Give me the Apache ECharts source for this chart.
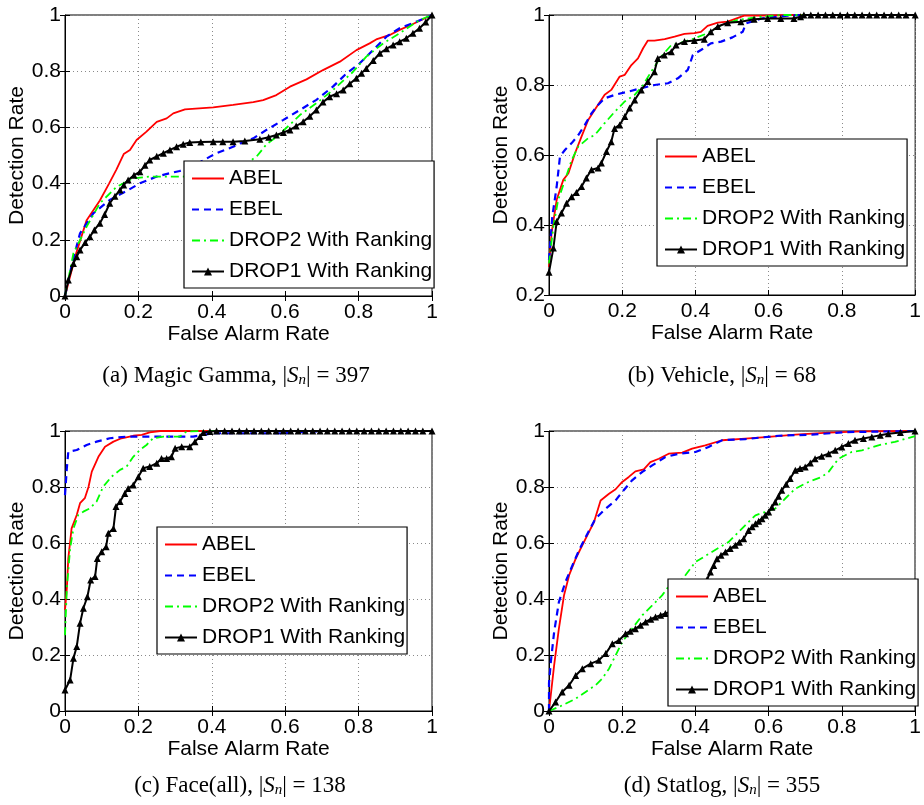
<!DOCTYPE html>
<html>
<head>
<meta charset="utf-8">
<script src="https://cdn.jsdelivr.net/npm/echarts@6/dist/echarts.min.js"></script>
<style>
html,body{margin:0;padding:0;background:#fff;}
#c{width:924px;height:805px;}
</style>
</head>
<body>
<div id="c"></div>
<script>
// ---------------- data ----------------
const seriesNames = ['ABEL', 'EBEL', 'DROP2 With Ranking', 'DROP1 With Ranking'];
const xTicks = [0, 0.2, 0.4, 0.6, 0.8, 1];

// (a) Magic Gamma
const a_ABEL = [[0,0],[0.03,0.15],[0.059,0.27],[0.095,0.34],[0.12,0.40],[0.14,0.45],[0.16,0.505],[0.177,0.52],[0.195,0.555],[0.222,0.585],[0.25,0.62],[0.277,0.632],[0.295,0.65],[0.327,0.664],[0.404,0.671],[0.458,0.68],[0.513,0.69],[0.54,0.697],[0.576,0.715],[0.613,0.745],[0.658,0.771],[0.703,0.804],[0.749,0.834],[0.794,0.875],[0.83,0.899],[0.848,0.913],[0.885,0.929],[0.912,0.947],[0.948,0.968],[1,1]];
const a_EBEL = [[0,0],[0.02,0.12],[0.041,0.223],[0.077,0.294],[0.122,0.342],[0.168,0.374],[0.204,0.401],[0.25,0.425],[0.286,0.437],[0.313,0.445],[0.367,0.475],[0.395,0.496],[0.413,0.508],[0.458,0.531],[0.477,0.543],[0.513,0.561],[0.549,0.591],[0.594,0.626],[0.64,0.662],[0.685,0.698],[0.73,0.745],[0.767,0.792],[0.803,0.828],[0.839,0.875],[0.876,0.923],[0.912,0.953],[0.957,0.976],[1,1]];
const a_DROP2 = [[0,0],[0.023,0.152],[0.059,0.247],[0.095,0.33],[0.141,0.389],[0.186,0.419],[0.231,0.425],[0.322,0.425],[0.40,0.44],[0.48,0.46],[0.522,0.496],[0.549,0.54],[0.577,0.567],[0.613,0.61],[0.64,0.644],[0.685,0.686],[0.73,0.733],[0.785,0.798],[0.821,0.852],[0.867,0.899],[0.912,0.935],[0.966,0.982],[1,1]];
const a_DROP1 = [[0,0],[0.009,0.057],[0.023,0.116],[0.032,0.14],[0.041,0.164],[0.055,0.19],[0.068,0.211],[0.08,0.235],[0.095,0.259],[0.108,0.29],[0.122,0.33],[0.136,0.355],[0.15,0.377],[0.16,0.395],[0.172,0.413],[0.188,0.43],[0.204,0.442],[0.218,0.465],[0.231,0.484],[0.25,0.497],[0.268,0.508],[0.286,0.52],[0.304,0.531],[0.322,0.54],[0.34,0.546],[0.37,0.548],[0.404,0.549],[0.43,0.549],[0.458,0.549],[0.49,0.552],[0.531,0.558],[0.555,0.565],[0.576,0.573],[0.595,0.582],[0.613,0.591],[0.63,0.605],[0.649,0.62],[0.667,0.64],[0.685,0.662],[0.703,0.69],[0.721,0.709],[0.74,0.72],[0.758,0.733],[0.776,0.755],[0.794,0.775],[0.808,0.793],[0.821,0.81],[0.84,0.838],[0.858,0.864],[0.876,0.88],[0.894,0.893],[0.912,0.905],[0.93,0.917],[0.948,0.935],[0.966,0.953],[0.983,0.975],[1,1]];

// (b) Vehicle
const b_ABEL = [[0,0.28],[0.007,0.377],[0.021,0.472],[0.039,0.529],[0.053,0.548],[0.071,0.605],[0.089,0.653],[0.107,0.70],[0.125,0.729],[0.152,0.772],[0.17,0.786],[0.193,0.824],[0.207,0.829],[0.225,0.857],[0.243,0.876],[0.257,0.905],[0.27,0.927],[0.288,0.927],[0.316,0.931],[0.343,0.938],[0.37,0.946],[0.397,0.948],[0.415,0.952],[0.433,0.969],[0.461,0.978],[0.488,0.981],[0.533,0.998],[0.578,0.998],[0.669,1],[1,1]];
const b_EBEL = [[0,0.3],[0.009,0.424],[0.021,0.51],[0.03,0.596],[0.044,0.615],[0.062,0.634],[0.08,0.657],[0.098,0.686],[0.116,0.719],[0.134,0.743],[0.152,0.762],[0.18,0.772],[0.216,0.781],[0.252,0.791],[0.288,0.80],[0.325,0.805],[0.352,0.819],[0.379,0.843],[0.393,0.886],[0.415,0.90],[0.442,0.919],[0.47,0.924],[0.501,0.936],[0.529,0.952],[0.538,0.976],[0.58,0.99],[0.65,0.998],[0.7,1],[1,1]];
const b_DROP2 = [[0,0.29],[0.012,0.396],[0.025,0.472],[0.044,0.529],[0.062,0.586],[0.08,0.624],[0.107,0.648],[0.125,0.657],[0.152,0.691],[0.18,0.724],[0.207,0.753],[0.234,0.772],[0.257,0.80],[0.279,0.838],[0.306,0.881],[0.334,0.914],[0.361,0.921],[0.397,0.933],[0.433,0.948],[0.47,0.971],[0.515,0.986],[0.578,0.995],[0.633,1],[1,1]];
const b_DROP1 = [[0,0.265],[0.012,0.334],[0.021,0.41],[0.034,0.434],[0.048,0.462],[0.062,0.481],[0.075,0.493],[0.089,0.51],[0.102,0.534],[0.116,0.558],[0.134,0.563],[0.143,0.577],[0.157,0.61],[0.17,0.638],[0.179,0.676],[0.193,0.686],[0.207,0.71],[0.22,0.734],[0.234,0.757],[0.252,0.786],[0.27,0.81],[0.288,0.838],[0.297,0.876],[0.315,0.886],[0.334,0.895],[0.347,0.914],[0.37,0.924],[0.397,0.927],[0.424,0.931],[0.442,0.952],[0.461,0.967],[0.488,0.978],[0.524,0.981],[0.56,0.988],[0.597,0.99],[0.633,0.99],[0.669,0.99],[0.687,0.995],[0.696,1],[0.715,1],[0.735,1],[0.755,1],[0.775,1],[0.795,1],[0.815,1],[0.835,1],[0.855,1],[0.875,1],[0.895,1],[0.915,1],[0.935,1],[0.955,1],[0.975,1],[1,1]];

// (c) Face(all)
const c_ABEL = [[0,0.36],[0.005,0.438],[0.009,0.545],[0.018,0.652],[0.032,0.70],[0.041,0.742],[0.054,0.76],[0.064,0.80],[0.073,0.855],[0.091,0.908],[0.109,0.944],[0.132,0.962],[0.154,0.974],[0.186,0.983],[0.209,0.986],[0.231,0.995],[0.259,1],[1,1]];
const c_EBEL = [[0,0.771],[0.005,0.867],[0.009,0.926],[0.032,0.932],[0.059,0.95],[0.086,0.962],[0.122,0.974],[0.168,0.98],[0.231,0.98],[0.304,0.98],[0.349,0.98],[0.377,0.986],[0.403,0.992],[0.458,0.992],[0.594,0.992],[0.7,1],[1,1]];
const c_DROP2 = [[0,0.271],[0.005,0.438],[0.014,0.581],[0.023,0.652],[0.036,0.70],[0.05,0.712],[0.068,0.724],[0.086,0.748],[0.104,0.801],[0.127,0.837],[0.15,0.861],[0.168,0.873],[0.186,0.908],[0.204,0.932],[0.222,0.95],[0.24,0.974],[0.268,0.98],[0.313,0.98],[0.331,0.998],[0.368,1],[1,1]];
const c_DROP1 = [[0,0.075],[0.014,0.111],[0.023,0.188],[0.032,0.23],[0.041,0.313],[0.05,0.367],[0.061,0.408],[0.07,0.468],[0.082,0.48],[0.088,0.545],[0.1,0.569],[0.112,0.587],[0.118,0.635],[0.132,0.652],[0.139,0.73],[0.15,0.748],[0.163,0.777],[0.172,0.795],[0.186,0.807],[0.2,0.837],[0.213,0.867],[0.231,0.873],[0.25,0.885],[0.263,0.902],[0.277,0.902],[0.29,0.908],[0.3,0.938],[0.318,0.944],[0.34,0.944],[0.354,0.962],[0.368,0.98],[0.377,0.995],[0.395,0.998],[0.413,1],[0.435,1],[0.455,1],[0.475,1],[0.495,1],[0.515,1],[0.535,1],[0.555,1],[0.575,1],[0.595,1],[0.615,1],[0.635,1],[0.655,1],[0.675,1],[0.695,1],[0.715,1],[0.735,1],[0.755,1],[0.775,1],[0.795,1],[0.815,1],[0.835,1],[0.855,1],[0.875,1],[0.895,1],[0.915,1],[0.935,1],[0.955,1],[0.975,1],[1,1]];

// (d) Statlog
const d_ABEL = [[0,0],[0.014,0.163],[0.027,0.294],[0.041,0.413],[0.055,0.485],[0.073,0.544],[0.091,0.592],[0.109,0.639],[0.123,0.675],[0.141,0.752],[0.164,0.776],[0.182,0.792],[0.2,0.818],[0.218,0.836],[0.236,0.856],[0.259,0.863],[0.277,0.889],[0.3,0.901],[0.327,0.919],[0.364,0.923],[0.391,0.937],[0.427,0.949],[0.473,0.967],[0.536,0.973],[0.6,0.979],[0.673,0.987],[0.764,0.994],[0.855,0.999],[1,1]];
const d_EBEL = [[0,0],[0,0.1],[0.005,0.175],[0.014,0.282],[0.027,0.389],[0.045,0.461],[0.064,0.52],[0.082,0.574],[0.105,0.633],[0.127,0.687],[0.155,0.723],[0.182,0.752],[0.2,0.782],[0.227,0.824],[0.255,0.854],[0.282,0.877],[0.318,0.907],[0.355,0.919],[0.4,0.925],[0.436,0.943],[0.473,0.967],[0.536,0.971],[0.627,0.983],[0.718,0.987],[0.809,0.996],[1,1]];
const d_DROP2 = [[0,0],[0.036,0.02],[0.073,0.044],[0.1,0.068],[0.127,0.092],[0.145,0.115],[0.164,0.151],[0.182,0.199],[0.2,0.246],[0.227,0.294],[0.255,0.342],[0.282,0.377],[0.309,0.413],[0.336,0.461],[0.364,0.47],[0.4,0.532],[0.445,0.568],[0.491,0.604],[0.536,0.663],[0.564,0.699],[0.591,0.711],[0.618,0.723],[0.645,0.758],[0.673,0.794],[0.709,0.818],[0.745,0.836],[0.764,0.854],[0.791,0.901],[0.827,0.925],[0.855,0.931],[0.9,0.949],[0.945,0.961],[1,0.982]];
const d_DROP1 = [[0,0],[0.018,0.032],[0.036,0.068],[0.055,0.092],[0.073,0.127],[0.091,0.151],[0.114,0.169],[0.136,0.181],[0.155,0.205],[0.173,0.24],[0.191,0.252],[0.209,0.276],[0.222,0.285],[0.236,0.294],[0.25,0.306],[0.264,0.318],[0.278,0.328],[0.291,0.336],[0.305,0.342],[0.318,0.348],[0.34,0.36],[0.36,0.375],[0.38,0.39],[0.4,0.41],[0.42,0.45],[0.432,0.47],[0.441,0.496],[0.45,0.52],[0.459,0.544],[0.47,0.556],[0.482,0.568],[0.495,0.58],[0.509,0.592],[0.52,0.603],[0.532,0.615],[0.545,0.645],[0.555,0.658],[0.564,0.669],[0.573,0.678],[0.582,0.687],[0.591,0.699],[0.6,0.711],[0.609,0.728],[0.618,0.746],[0.627,0.767],[0.636,0.788],[0.648,0.81],[0.659,0.83],[0.673,0.86],[0.686,0.866],[0.7,0.871],[0.714,0.886],[0.727,0.901],[0.745,0.91],[0.764,0.919],[0.782,0.931],[0.8,0.943],[0.818,0.955],[0.836,0.967],[0.859,0.973],[0.882,0.979],[0.905,0.985],[0.927,0.99],[0.96,0.995],[1,1]];

const captionTitles = ['Magic Gamma', 'Vehicle', 'Face(all)', 'Statlog'];
const captionLetters = ['a', 'b', 'c', 'd'];
const captionSizes = [397, 68, 138, 355];
const yMins = [0, 0.2, 0, 0];

// ---------------- layout / style ----------------
const SANS = 'Liberation Sans';
const FS = 21;
const panels = [
  { grid: {left: 65, top: 15, width: 367, height: 281}, legend: {left: 184, top: 161}, cap: {x: 236, y: 376}, data: [a_ABEL, a_EBEL, a_DROP2, a_DROP1] },
  { grid: {left: 549, top: 15, width: 368, height: 280}, legend: {left: 657, top: 139}, cap: {x: 722, y: 376}, data: [b_ABEL, b_EBEL, b_DROP2, b_DROP1] },
  { grid: {left: 65, top: 431, width: 367, height: 280}, legend: {left: 157, top: 527}, cap: {x: 240, y: 786}, data: [c_ABEL, c_EBEL, c_DROP2, c_DROP1] },
  { grid: {left: 549, top: 431, width: 366, height: 280}, legend: {left: 668, top: 579}, cap: {x: 722, y: 786}, data: [d_ABEL, d_EBEL, d_DROP2, d_DROP1] }
];
const styles = [
  { color: '#ff0000', type: 'solid', width: 1.8, symbol: 'none' },
  { color: '#0000ff', type: [7, 5], width: 2.2, symbol: 'none' },
  { color: '#00ff00', type: [8, 4, 2, 4], width: 1.8, symbol: 'none' },
  { color: '#000000', type: 'solid', width: 2, symbol: 'triangle' }
];

const grids = [], xAxes = [], yAxes = [], series = [], legends = [], graphics = [];
const fmt = v => (Math.abs(v) < 1e-9 ? '0' : (Math.abs(v - 1) < 1e-9 ? '1' : v.toFixed(1)));

panels.forEach((p, i) => {
  grids.push(Object.assign({ show: true, borderColor: '#000', borderWidth: 1, backgroundColor: 'transparent' }, p.grid));
  const common = { type: 'value', gridIndex: i, max: 1, interval: 0.2 };
  xAxes.push(Object.assign({}, common, {
    min: 0, position: 'bottom',
    name: 'False Alarm Rate', nameLocation: 'middle', nameGap: 25,
    nameTextStyle: { fontFamily: SANS, fontSize: FS, color: '#000' },
    axisLine: { show: true, lineStyle: { color: '#000', width: 1 } },
    axisTick: { show: true, inside: true, length: 5, lineStyle: { color: '#000' } },
    axisLabel: { fontFamily: SANS, fontSize: FS, color: '#000', margin: 6, formatter: fmt },
    splitLine: { show: true, lineStyle: { color: '#8a8a8a', type: [1, 3], width: 1 } }
  }));
  xAxes.push(Object.assign({}, common, {
    min: 0, position: 'top',
    axisLine: { show: false },
    axisTick: { show: true, inside: true, length: 5, lineStyle: { color: '#000' } },
    axisLabel: { show: false }, splitLine: { show: false }
  }));
  yAxes.push(Object.assign({}, common, {
    min: yMins[i], position: 'left',
    name: 'Detection Rate', nameLocation: 'middle', nameGap: 37,
    nameTextStyle: { fontFamily: SANS, fontSize: FS, color: '#000' },
    axisLine: { show: true, lineStyle: { color: '#000', width: 1 } },
    axisTick: { show: true, inside: true, length: 5, lineStyle: { color: '#000' } },
    axisLabel: { fontFamily: SANS, fontSize: FS, color: '#000', margin: 4, formatter: fmt },
    splitLine: { show: true, lineStyle: { color: '#8a8a8a', type: [1, 3], width: 1 } }
  }));
  yAxes.push(Object.assign({}, common, {
    min: yMins[i], position: 'right',
    axisLine: { show: false },
    axisTick: { show: true, inside: true, length: 5, lineStyle: { color: '#000' } },
    axisLabel: { show: false }, splitLine: { show: false }
  }));
  p.data.forEach((d, k) => {
    const s = styles[k];
    series.push({
      type: 'line', name: seriesNames[k], xAxisIndex: 2 * i, yAxisIndex: 2 * i,
      data: d, symbol: s.symbol, symbolSize: 7, showSymbol: s.symbol !== 'none',
      itemStyle: { color: s.color },
      lineStyle: { color: s.color, width: s.width, type: s.type },
      z: 2 + k, animation: false, silent: true
    });
  });
  legends.push({
    data: seriesNames.map((n, k) => (styles[k].symbol === 'none'
      ? { name: n, itemStyle: { opacity: 0 } }
      : { name: n })),
    orient: 'vertical', left: p.legend.left, top: p.legend.top,
    backgroundColor: '#fff', borderColor: '#000', borderWidth: 1.2,
    padding: [7, 2, 6, 7], itemGap: 10, itemWidth: 32, itemHeight: 10,
    textStyle: { fontFamily: SANS, fontSize: FS, color: '#000' },
    selectedMode: false, z: 10
  });
  graphics.push({
    type: 'text', x: p.cap.x, y: p.cap.y, z: 20,
    style: {
      text: '{n|(' + captionLetters[i] + ') ' + captionTitles[i] + ', |}{i|S}{s|n}{n|| = ' + captionSizes[i] + '}',
      align: 'center', verticalAlign: 'middle', fill: '#000',
      rich: {
        n: { fontFamily: 'Liberation Serif', fontSize: 23, fill: '#000' },
        i: { fontFamily: 'Liberation Serif', fontSize: 23, fontStyle: 'italic', fill: '#000' },
        s: { fontFamily: 'Liberation Serif', fontSize: 15, fontStyle: 'italic', fill: '#000', padding: [8, 0, 0, 0] }
      }
    }
  });
});

const chart = echarts.init(document.getElementById('c'), null, { renderer: 'canvas' });
chart.setOption({
  animation: false,
  backgroundColor: '#fff',
  grid: grids, xAxis: xAxes, yAxis: yAxes, series: series, legend: legends, graphic: graphics
});
</script>
</body>
</html>
